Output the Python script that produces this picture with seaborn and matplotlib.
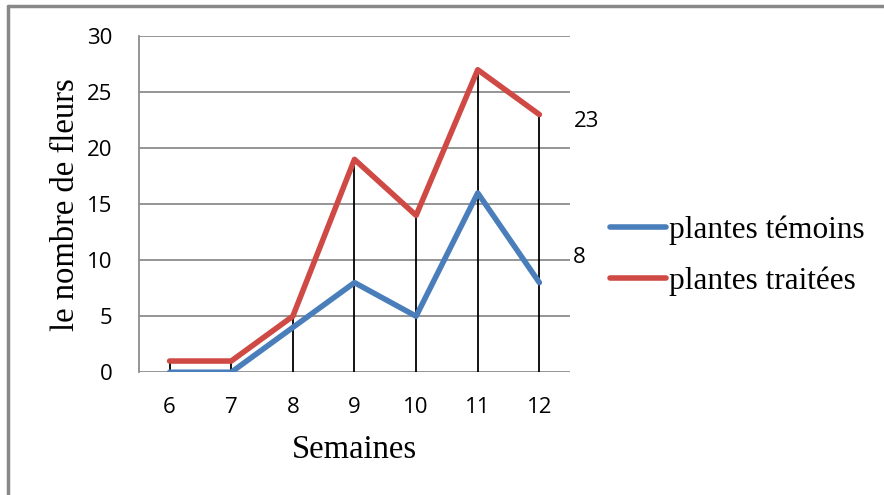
import numpy as np
import pandas as pd
import matplotlib
matplotlib.use("Agg")
import matplotlib.pyplot as plt
import seaborn as sns
from matplotlib.lines import Line2D

# data
semaines = ["6", "7", "8", "9", "10", "11", "12"]
temoins = [0, 0, 4, 8, 5, 16, 8]
traitees = [1, 1, 5, 19, 14, 27, 23]

df = pd.DataFrame({"Semaines": semaines * 2,
                   "fleurs": temoins + traitees,
                   "groupe": ["plantes témoins"] * 7 + ["plantes traitées"] * 7})

sns.set_style("white")
plt.rcParams["text.color"] = "black"
plt.rcParams["axes.labelcolor"] = "black"
fig = plt.figure(figsize=(8.84, 4.95), dpi=100)
ax = fig.add_axes([0.157, 0.248, 0.488, 0.679])

# drop lines from the top of each category down to the axis
x = np.arange(len(semaines))
top = np.maximum(temoins, traitees)
ax.vlines(x, 0, top, color="black", lw=1.3, zorder=2)

sns.lineplot(data=df, x="Semaines", y="fleurs", hue="groupe",
             palette={"plantes témoins": "#4a7ebb", "plantes traitées": "#cf4a45"},
             lw=4, ax=ax, legend=False, zorder=3, sort=False)

ax.set_xlim(-0.5, 6.5)
ax.set_ylim(0, 30)
ax.set_yticks(range(0, 31, 5))
ax.yaxis.grid(True, color="#8c8c8c", lw=1.3)
ax.set_axisbelow(True)
for s in ["top", "right", "bottom"]:
    ax.spines[s].set_visible(False)
ax.spines["left"].set_color("#8c8c8c")
ax.spines["left"].set_linewidth(1.3)
ax.tick_params(axis="y", length=8, width=1.3, color="#8c8c8c", labelsize=16, pad=11)
ax.tick_params(axis="x", length=0, labelsize=16, pad=18)
for t in ax.get_xticklabels() + ax.get_yticklabels():
    t.set_fontfamily("Open Sans")
    t.set_color("black")

ax.set_xlabel("Semaines", fontfamily="Liberation Serif", fontsize=23.5, labelpad=12)
ax.set_ylabel("le nombre de fleurs", fontfamily="Liberation Serif", fontsize=23.5, labelpad=4)

# labels at the last points
ax.annotate(str(traitees[-1]), (x[-1], traitees[-1]), xytext=(34, -5),
            textcoords="offset points", ha="center", va="center",
            fontsize=16, fontfamily="Open Sans", color="black")
ax.annotate(str(temoins[-1]), (x[-1], temoins[-1]), xytext=(29, 18),
            textcoords="offset points", ha="center", va="center",
            fontsize=16, fontfamily="Open Sans", color="black")

handles = [Line2D([], [], color="#4a7ebb", lw=4),
           Line2D([], [], color="#cf4a45", lw=4)]
fig.legend(handles, ["plantes témoins", "plantes traitées"],
           loc="center left", bbox_to_anchor=(0.658, 0.483), frameon=False,
           prop={"family": "Liberation Serif", "size": 22.5},
           handlelength=1.8, handletextpad=0.1, labelspacing=0.7)

# gray frame on left and top
fig.add_artist(Line2D([0.0095, 0.0095], [0, 0.987], color="#888888", lw=2.5, transform=fig.transFigure))
fig.add_artist(Line2D([0.0095, 1], [0.987, 0.987], color="#888888", lw=2.5, transform=fig.transFigure))

fig.savefig("out.png", dpi=100)
